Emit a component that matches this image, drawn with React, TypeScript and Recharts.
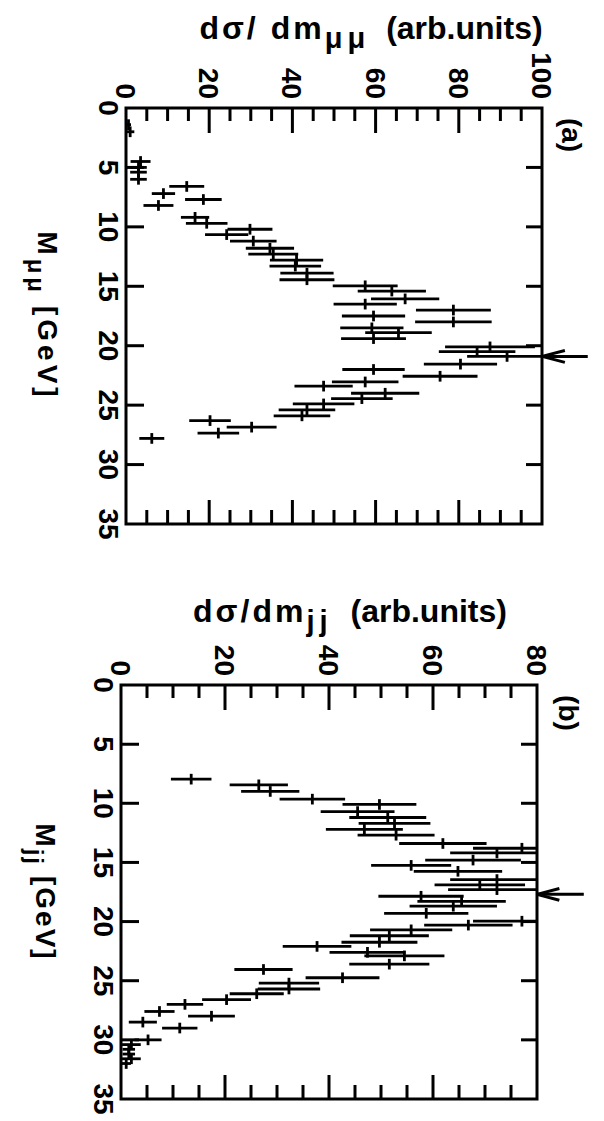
import React from 'react';
import { ComposedChart, Scatter, ErrorBar, XAxis, YAxis, ReferenceLine, ReferenceArea } from 'recharts';

const FONT = "'Liberation Sans', Arial, Helvetica, sans-serif";
const INK = '#000';

// ---------- panel (a): dimuon mass spectrum ----------
const massMuMu = [
  1.4, 2.0, 4.5, 5.0, 5.4, 6.0, 6.6, 7.2, 7.7, 8.2, 9.2, 9.7, 10.2, 10.65, 11.2, 11.8,
  12.3, 12.8, 13.3, 13.9, 14.45, 14.96, 15.4, 16.06, 16.5, 17.0, 17.5, 18.0, 18.5, 18.9,
  19.4, 20.1, 20.5, 20.9, 21.55, 22.0, 22.57, 23.05, 23.4, 24.0, 24.45, 24.9, 25.4, 25.9,
  26.3, 26.85, 27.35, 27.8,
];
const sigmaMuMu = [
  0.6, 1.0, 3.5, 3.0, 3.0, 3.0, 14.6, 9.0, 18.6, 7.8, 16.6, 19.4, 29.8, 24.2, 30.6, 34.6,
  35.4, 41.0, 40.7, 43.5, 43.5, 57.5, 63.9, 67.1, 57.5, 78.7, 59.5, 78.7, 59.1, 65.5,
  59.5, 87.5, 84.4, 91.6, 80.4, 59.5, 75.5, 57.5, 47.5, 62.3, 56.7, 47.5, 43.5, 42.3,
  20.2, 30.2, 22.2, 6.2,
];
const errMuMu = [
  0.6, 1.0, 2.4, 2.0, 2.0, 2.0, 4.2, 2.8, 4.4, 3.6, 3.4, 5.0, 5.4, 5.2, 5.6, 5.8,
  6.0, 6.4, 6.2, 6.4, 6.6, 7.8, 8.2, 8.2, 7.6, 9.0, 7.6, 9.2, 7.6, 8.0,
  7.8, 10.8, 9.2, 9.6, 8.8, 7.5, 9.0, 8.0, 7.0, 8.2, 7.4, 7.4, 6.8, 6.8,
  5.0, 6.0, 5.0, 3.0,
];

// ---------- panel (b): dijet mass spectrum ----------
const massJJ = [
  7.96, 8.44, 9.0, 9.65, 10.1, 10.7, 11.2, 11.7, 12.2, 12.7, 13.4, 13.8, 14.2, 14.8,
  15.25, 15.75, 16.45, 16.9, 17.3, 17.86, 18.3, 18.7, 19.3, 19.97, 20.3, 20.7, 21.2,
  21.75, 22.1, 22.6, 22.9, 23.6, 24.05, 24.75, 25.2, 25.7, 26.1, 26.6, 27.0, 27.6,
  28.0, 28.5, 29.0, 30.0, 30.4, 30.8, 31.2, 31.6, 32.0,
];
const sigmaJJ = [
  13.5, 26.5, 28.7, 36.8, 49.7, 45.5, 51.3, 52.6, 46.8, 52.9, 61.9, 77.1, 72.3, 67.7,
  55.8, 64.8, 72.3, 69.0, 72.3, 57.7, 65.5, 63.9, 58.7, 77.1, 66.8, 55.8, 51.6,
  49.7, 37.7, 47.4, 54.5, 51.6, 27.4, 42.6, 32.3, 32.3, 26.1, 20.3, 12.3, 7.4,
  17.4, 4.2, 11.3, 5.2, 2.0, 1.5, 1.5, 2.0, 1.0,
];
const errJJ = [
  3.9, 5.6, 5.6, 6.3, 7.1, 7.1, 7.4, 6.9, 7.4, 7.4, 8.4, 9.4, 9.0, 9.2,
  7.7, 8.5, 9.0, 8.7, 9.4, 8.2, 8.5, 8.4, 8.1, 9.4, 8.5, 7.9, 7.6,
  7.3, 6.6, 7.3, 7.7, 7.7, 5.6, 7.1, 5.8, 6.0, 5.2, 4.7, 3.5, 2.9,
  4.5, 2.7, 3.4, 2.6, 1.8, 1.2, 1.2, 1.8, 0.9,
];

const binHalfWidth = 0.45;

const massTicks = [0, 5, 10, 15, 20, 25, 30, 35];
const sigmaTicksA = [0, 5, 10, 15, 20, 25, 30, 35, 40, 45, 50, 55, 60, 65, 70, 75, 80, 85, 90, 95, 100];
const sigmaTicksB = [0, 5, 10, 15, 20, 25, 30, 35, 40, 45, 50, 55, 60, 65, 70, 75, 80];

// arrows marking the peak position
const arrowMuMu = 20.9;
const arrowJJ = 17.7;

type Row = { m: number; v: number; ev: [number, number]; em: number };
// error bars stop at the frame of the plot (upper arm clamped to the axis maximum)
const buildTable = (mass: number[], sig: number[], err: number[], yMax: number): Row[] =>
  mass.map((m, i) => ({
    m,
    v: sig[i],
    ev: [Math.min(err[i], sig[i]), Math.min(err[i], yMax - sig[i])],
    em: binHalfWidth,
  }));

const tableMuMu = buildTable(massMuMu, sigmaMuMu, errMuMu, 100);
const tableJJ = buildTable(massJJ, sigmaJJ, errJJ, 80);

const LW = 3;

function makeMassTickBottom() {
  return (props: any) => {
    const { x, y, payload } = props;
    const v = payload.value;
    const edge = v === 0 || v === 35;
    return (
      <g>
        {!edge && <line x1={x} y1={y} x2={x} y2={y - 18} stroke={INK} strokeWidth={LW} />}
        <text x={x} y={y + 27} textAnchor="middle" fontFamily={FONT} fontWeight={700} fontSize={28} fill={INK}>
          {v}
        </text>
      </g>
    );
  };
}

function makeMassTickTop() {
  return (props: any) => {
    const { x, y, payload } = props;
    const v = payload.value;
    const edge = v === 0 || v === 35;
    return <g>{!edge && <line x1={x} y1={y} x2={x} y2={y + 16} stroke={INK} strokeWidth={LW} />}</g>;
  };
}

function makeSigmaTickLeft(max: number) {
  return (props: any) => {
    const { x, y, payload } = props;
    const v = payload.value;
    const major = v % 20 === 0;
    const len = major ? 25 : 13;
    const edge = v === 0 || v === max;
    return (
      <g>
        {!edge && <line x1={x} y1={y} x2={x + len} y2={y} stroke={INK} strokeWidth={LW} />}
        {major && (
          <text x={x - 9} y={y} dy="0.36em" textAnchor="end" fontFamily={FONT} fontWeight={700} fontSize={28} fill={INK}>
            {v}
          </text>
        )}
      </g>
    );
  };
}

function makeSigmaTickRight(max: number) {
  return (props: any) => {
    const { x, y, payload } = props;
    const v = payload.value;
    const major = v % 20 === 0;
    const len = major ? 24 : 14;
    const edge = v === 0 || v === max;
    return <g>{!edge && <line x1={x} y1={y} x2={x - len} y2={y} stroke={INK} strokeWidth={LW} />}</g>;
  };
}

function makeSigmaTitle(main: string, sub: string, dx: number, dyc: number, size: number, gap: number) {
  return (props: any) => {
    const vb = props.viewBox || { x: 0, y: 0, width: 0, height: 0 };
    const cx = vb.x + dx;
    const cy = vb.y + vb.height / 2 + dyc;
    return (
      <text
        x={cx}
        y={cy}
        transform={`rotate(-90 ${cx} ${cy})`}
        textAnchor="middle"
        fontFamily={FONT}
        fontWeight={700}
        fontSize={size}
        fill={INK}
      >
        <tspan letterSpacing={3}>{main}</tspan>
        <tspan dy={9} fontSize={size - 3} letterSpacing={5}>{sub}</tspan>
        <tspan dy={-9} dx={gap}>(arb.units)</tspan>
      </text>
    );
  };
}

function makeMassTitle(sub: string, dyBase: number, spacing: number) {
  return (props: any) => {
    const vb = props.viewBox || { x: 0, y: 0, width: 0, height: 0 };
    const cx = vb.x + vb.width / 2;
    const cy = vb.y + dyBase;
    return (
      <text x={cx} y={cy} textAnchor="middle" fontFamily={FONT} fontWeight={700} fontSize={28} fill={INK} letterSpacing={spacing}>
        <tspan>M</tspan>
        <tspan dy={10} fontSize={24}>{sub}</tspan>
        <tspan dy={-10} dx={10}>[GeV]</tspan>
      </text>
    );
  };
}

function makeTag(tag: string, dx: number, dy: number) {
  return (props: any) => {
    const vb = props.viewBox || { x: 0, y: 0, width: 0, height: 0 };
    return (
      <text x={vb.x + dx} y={vb.y + dy} textAnchor="middle" fontFamily={FONT} fontWeight={700} fontSize={28} fill={INK}>
        {tag}
      </text>
    );
  };
}

type PanelProps = {
  table: Row[];
  yMax: number;
  yTicks: number[];
  width: number;
  margin: { top: number; right: number; bottom: number; left: number };
  arrowM: number;
  arrowTop: number;
  headBack: number;
  main: string;
  sub: string;
  massSub: string;
  tag: string;
  titleDx: number;
  titleDy: number;
  titleSize: number;
  titleGap: number;
  massTitleDy: number;
  massSpacing: number;
  tagDx: number;
  tagDy: number;
};

function Panel(p: PanelProps) {
  return (
    <ComposedChart width={p.width} height={604} margin={p.margin} data={p.table}>
      <XAxis
        xAxisId={0}
        type="number"
        dataKey="m"
        domain={[0, 35]}
        ticks={massTicks}
        interval={0}
        allowDataOverflow
        orientation="bottom"
        height={90}
        tickSize={0}
        tickMargin={0}
        tickLine={false}
        axisLine={false}
        tick={makeMassTickBottom()}
        label={{ content: makeMassTitle(p.massSub, p.massTitleDy, p.massSpacing) }}
      />
      <XAxis
        xAxisId="top"
        type="number"
        dataKey="m"
        domain={[0, 35]}
        ticks={massTicks}
        interval={0}
        allowDataOverflow
        orientation="top"
        height={1}
        tickSize={0}
        tickMargin={0}
        tickLine={false}
        axisLine={false}
        tick={makeMassTickTop()}
      />
      <YAxis
        yAxisId={0}
        type="number"
        dataKey="v"
        domain={[0, p.yMax]}
        ticks={p.yTicks}
        interval={0}
        allowDataOverflow
        orientation="left"
        width={90}
        tickSize={0}
        tickMargin={0}
        tickLine={false}
        axisLine={false}
        tick={makeSigmaTickLeft(p.yMax)}
        label={{ content: makeSigmaTitle(p.main, p.sub, p.titleDx, p.titleDy, p.titleSize, p.titleGap) }}
      />
      <YAxis
        yAxisId="right"
        type="number"
        dataKey="v"
        domain={[0, p.yMax]}
        ticks={p.yTicks}
        interval={0}
        allowDataOverflow
        orientation="right"
        width={1}
        tickSize={0}
        tickMargin={0}
        tickLine={false}
        axisLine={false}
        tick={makeSigmaTickRight(p.yMax)}
      />
      <ReferenceArea
        xAxisId={0}
        yAxisId={0}
        x1={0}
        x2={35}
        y1={0}
        y2={p.yMax}
        ifOverflow="visible"
        fill="none"
        fillOpacity={0}
        stroke={INK}
        strokeWidth={LW}
        label={{ content: makeTag(p.tag, p.tagDx, p.tagDy) }}
      />
      <Scatter
        xAxisId={0}
        yAxisId={0}
        data={p.table}
        dataKey="v"
        isAnimationActive={false}
        fill={INK}
        shape={() => <g />}
      >
        <ErrorBar dataKey="ev" direction="y" width={0} stroke={INK} strokeWidth={2.8} isAnimationActive={false} />
        <ErrorBar dataKey="em" direction="x" width={0} stroke={INK} strokeWidth={2.8} isAnimationActive={false} />
      </Scatter>
      <ReferenceLine
        xAxisId={0}
        yAxisId={0}
        ifOverflow="visible"
        segment={[{ x: p.arrowM, y: p.yMax }, { x: p.arrowM, y: p.arrowTop }]}
        stroke={INK}
        strokeWidth={LW}
      />
      <ReferenceLine
        xAxisId={0}
        yAxisId={0}
        ifOverflow="visible"
        segment={[{ x: p.arrowM, y: p.yMax }, { x: p.arrowM - 0.5, y: p.yMax + p.headBack }]}
        stroke={INK}
        strokeWidth={LW}
      />
      <ReferenceLine
        xAxisId={0}
        yAxisId={0}
        ifOverflow="visible"
        segment={[{ x: p.arrowM, y: p.yMax }, { x: p.arrowM + 0.5, y: p.yMax + p.headBack }]}
        stroke={INK}
        strokeWidth={LW}
      />
    </ComposedChart>
  );
}

export default function App() {
  return (
    <div
      style={{
        position: 'absolute',
        left: 0,
        top: 0,
        width: 1121,
        height: 604,
        transformOrigin: '0 0',
        transform: 'translate(604px, 0px) rotate(90deg)',
        background: '#fff',
      }}
    >
      <div style={{ position: 'absolute', left: 0, top: 0 }}>
        <Panel
          table={tableMuMu}
          yMax={100}
          yTicks={sigmaTicksA}
          width={560}
          margin={{ top: 61, right: 35, bottom: 36, left: 18 }}
          arrowM={arrowMuMu}
          arrowTop={111}
          headBack={5.5}
          main="dσ/ dm"
          sub="μμ"
          massSub="μμ"
          tag="(a)"
          titleDx={21}
          titleDy={-37}
          titleSize={32}
          titleGap={16}
          massTitleDy={88}
          massSpacing={4}
          tagDx={27}
          tagDy={-20}
        />
      </div>
      <div style={{ position: 'absolute', left: 560, top: 0 }}>
        <Panel
          table={tableJJ}
          yMax={80}
          yTicks={sigmaTicksB}
          width={561}
          margin={{ top: 66, right: 21, bottom: 31, left: 35 }}
          arrowM={arrowJJ}
          arrowTop={89}
          headBack={4.3}
          main="dσ/dm"
          sub="jj"
          massSub="jj"
          tag="(b)"
          titleDx={27}
          titleDy={-21}
          titleSize={32}
          titleGap={18}
          massTitleDy={85}
          massSpacing={2}
          tagDx={28}
          tagDy={-22}
        />
      </div>
    </div>
  );
}
